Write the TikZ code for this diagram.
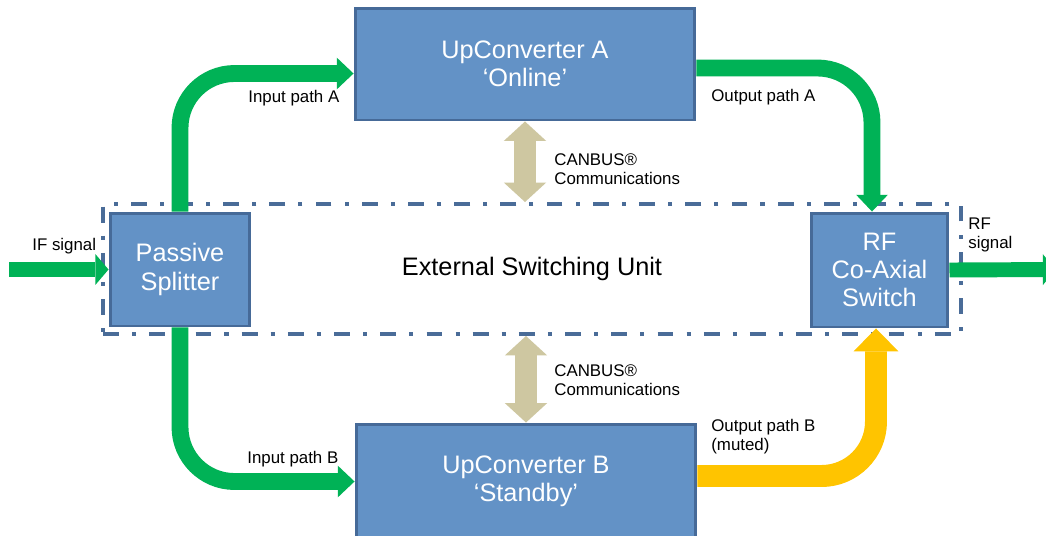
\documentclass[tikz,border=0pt]{standalone}
\usepackage{fontspec}
\setmainfont{Liberation Sans}
\usepackage{xcolor}
\usetikzlibrary{arrows.meta,positioning,calc}
\definecolor{boxfill}{RGB}{99,146,198}
\definecolor{boxline}{RGB}{70,106,152}
\definecolor{esuline}{RGB}{74,108,152}
\definecolor{siggreen}{RGB}{0,178,86}
\definecolor{mutedyellow}{RGB}{255,196,0}
\definecolor{canbustan}{RGB}{206,199,161}
\tikzset{
    unit block/.style={draw=boxline,fill=boxfill,line width=1.7pt,text=white,align=center,inner sep=0pt,
        font=\fontsize{14.4}{16}\selectfont},
    esu frame/.style={draw=esuline,line width=2.3pt,dash pattern=on 9pt off 7.5pt on 2.3pt off 7.5pt,
        font=\fontsize{14.4}{16}\selectfont,inner sep=0pt},
    path label/.style={inner sep=0pt,align=left,font=\fontsize{9.6}{10.8}\selectfont},
    sig arr/.style={siggreen,line width=9.6pt,rounded corners=31pt,-{Triangle[width=18pt,length=9.5pt,line width=0pt]}},
    muted arr/.style={mutedyellow,line width=12.5pt,rounded corners=31pt,-{Triangle[width=25.5pt,length=13pt,line width=0pt]}},
    io arr/.style={siggreen,line width=8.5pt,-{Triangle[width=17.6pt,length=7.5pt,line width=0pt]}},
    canbus arr/.style={canbustan,line width=12pt,{Triangle[width=24pt,length=11pt,line width=0pt]}-{Triangle[width=24pt,length=11pt,line width=0pt]}},
}

\begin{document}
\begin{tikzpicture}[x=0.02cm,y=-0.02cm]
    \useasboundingbox (0,0) rectangle (1046,535);
    \fill[white] (0,0) rectangle (1046,535);

    % switching unit frame
    \node[esu frame,minimum width=17.16cm,minimum height=2.6cm] (esu) at (532,269) {External Switching Unit};

    % blocks
    \node[unit block,minimum width=6.8cm,minimum height=2.24cm] (convA) at (525,64) {UpConverter A\\‘Online’};
    \node[unit block,minimum width=6.8cm,minimum height=2.28cm] (convB) at (526,481) {UpConverter B\\‘Standby’};
    \node[unit block,minimum width=2.8cm,minimum height=2.26cm] (splitter) at (180,269.5) {Passive\\Splitter};
    \node[unit block,minimum width=2.74cm,minimum height=2.28cm] (rfswitch) at (879.5,270) {RF\\Co-Axial\\Switch};

    \coordinate (ifin) at (9,269.5);
    \coordinate (rfout) at (1056,269.5);

    % signal paths
    \draw[io arr] (ifin) -- (splitter.west);
    \draw[io arr] (rfswitch.east) -- (rfout);
    \draw[sig arr] (splitter.north) |- ($(convA.west)+(0,9.5)$);
    \draw[sig arr] ($(convA.east)+(0,4)$) -| ($(rfswitch.north)+(-7.5,0)$);
    \draw[sig arr] (splitter.south) |- ($(convB.west)+(0,0.5)$);
    \draw[muted arr] ($(convB.east)+(0,-5)$) -| ($(rfswitch.south)+(-3.5,0)$);

    % canbus links
    \draw[canbus arr] (convA.south) -- (convA.south |- esu.north);
    \draw[canbus arr] (esu.south -| convB.north) -- (convB.north);

    % labels
    \node[path label,anchor=north west] (lblifin) at (32,238) {IF signal};
    \node[path label,anchor=north west] (lblrfout) at (968,218) {RF\\signal};
    \node[path label,anchor=north west] (lblinA) at (248,90) {Input path A};
    \node[path label,anchor=north west] (lbloutA) at (711,89) {Output path A};
    \node[path label,anchor=north west] (lblinB) at (247,451) {Input path B};
    \node[path label,anchor=north west] (lbloutB) at (711,419) {Output path B\\(muted)};
    \node[path label,anchor=north west] (lblcanA) at (554,153) {CANBUS®\\Communications};
    \node[path label,anchor=north west] (lblcanB) at (554,364) {CANBUS®\\Communications};
\end{tikzpicture}
\end{document}
